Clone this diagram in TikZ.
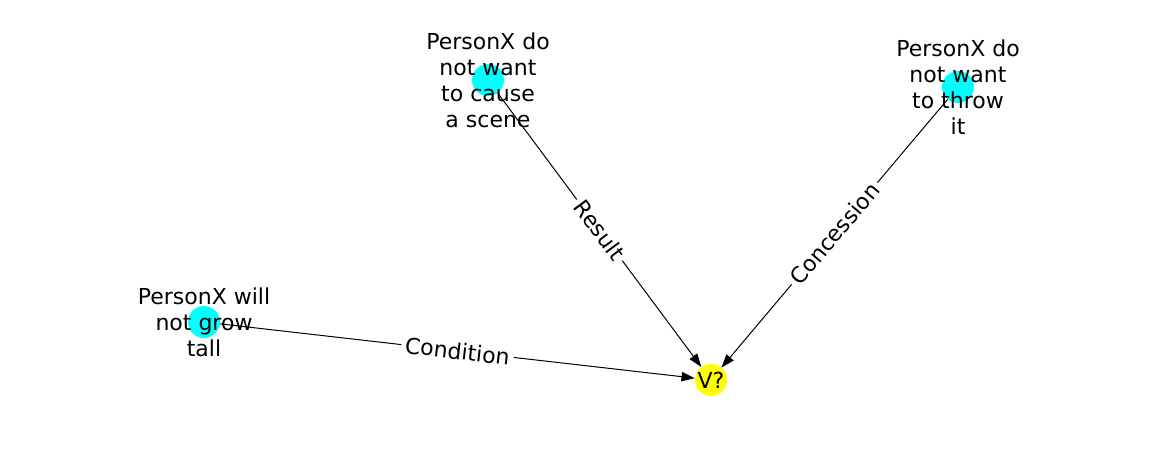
\documentclass[tikz,border=0pt]{standalone}
\usepackage{fontspec}
\setmainfont{DejaVu Sans}
\usetikzlibrary{arrows.meta}
\definecolor{nodecyan}{RGB}{0,255,255}
\definecolor{nodeyellow}{RGB}{255,255,0}

\begin{document}
\begin{tikzpicture}[x=0.75pt,y=-0.75pt,
	basic/.style  = {circle, minimum size=24pt, inner sep=0pt},
	cause/.style  = {basic, fill=nodecyan},
	target/.style = {basic, fill=nodeyellow, font=\fontsize{16.5}{19.5}\selectfont},
	txt/.style    = {align=center, inner sep=0pt, font=\fontsize{16.5}{19.5}\selectfont},
	rel/.style    = {fill=white, inner sep=3pt, sloped, font=\fontsize{16.5}{19.5}\selectfont},
	edge/.style   = {draw, line width=0.75pt, -{Triangle[length=10pt,width=7pt]}},
	>=latex]

	\useasboundingbox (0,0) rectangle (1162,462);

	% the event nodes
	\node[cause] (c1) at (488,80) {};
	\node[cause] (c2) at (958,87) {};
	\node[cause] (c3) at (204,322) {};
	\node[target] (v) at (711,380) {V?};

	% relations towards the unknown event
	\draw[edge] (c1) -- node[rel] {Result} (v);
	\draw[edge] (c2) -- node[rel] {Concession} (v);
	\draw[edge] (c3) -- node[rel] {Condition} (v);

	% texts over the nodes
	\node[txt] (t1) at (c1) {PersonX do\\not want\\to cause\\a scene};
	\node[txt] (t2) at (c2) {PersonX do\\not want\\to throw\\it};
	\node[txt] (t3) at (c3) {PersonX will\\not grow\\tall};

\end{tikzpicture}
\end{document}
